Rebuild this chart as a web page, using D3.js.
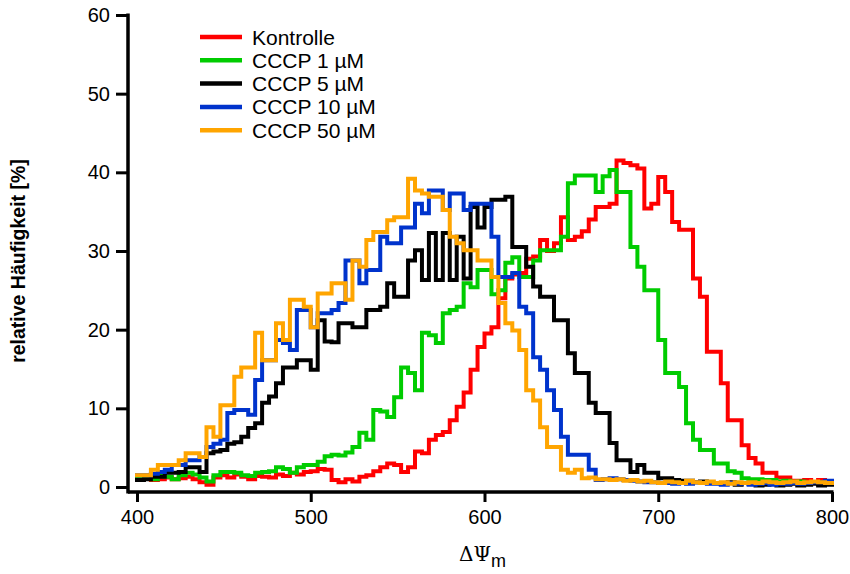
<!DOCTYPE html>
<html>
<head>
<meta charset="utf-8">
<script src="https://cdn.jsdelivr.net/npm/d3@7"></script>
<style>
  body { margin: 0; background: #fff; }
  text { font-family: "Liberation Sans", Arial, sans-serif; }
</style>
</head>
<body>
<svg width="850" height="574"></svg>
<script>
// bins of 4 units from 400 to 796
var binStart = 400, binWidth = 4;

var kontrolle = [1.0,1.2,0.9,1.0,1.2,1.0,1.1,1.3,1.0,0.6, 0.3,1.2,1.5,1.2,1.6,1.3,1.0,1.4,1.3,1.2,
  1.6,1.4,1.8,1.6,1.9,2.0,2.3,2.2,0.9,0.6, 1.0,0.7,1.3,1.5,2.0,2.5,3.0,2.8,1.9,2.5,
  4.5,4.3,6.0,6.6,7.0,8.5,10.2,12.0,14.9,17.8, 19.5,20.3,24.0,26.5,27.0,27.2,29.0,29.3,31.4,30.0,
  31.0,34.3,31.4,31.8,32.5,34.0,35.6,35.6,36.0,41.5, 41.2,40.9,40.5,35.4,36.0,39.4,37.5,33.7,32.7,32.7,
  26.5,24.2,17.2,17.2,13.2,8.5,8.5,5.3,3.7,3.0, 1.8,1.8,1.2,1.2,0.8,0.8,0.9,0.6,0.9,0.7];

var cccp1 = [1.3,1.2,1.0,1.5,1.3,1.0,1.5,1.8,1.6,1.2, 0.7,1.5,1.9,1.9,1.8,1.5,1.4,1.8,1.9,2.0,
  2.5,2.3,1.8,2.5,2.8,2.8,3.2,3.9,4.1,4.0, 4.4,5.1,6.9,6.0,9.8,9.6,8.9,11.4,15.2,14.5,
  12.3,19.6,19.3,18.3,22.1,22.5,22.9,25.9,25.4,27.6, 27.6,24.5,25.0,28.5,29.2,26.7,26.7,28.8,30.1,30.1,
  30.1,31.8,38.6,39.6,39.6,39.6,37.5,39.5,40.3,37.5, 37.5,30.5,28.0,25.0,25.0,18.7,14.5,14.5,12.7,8.1,
  6.0,4.7,4.7,3.0,3.0,2.0,1.8,1.1,1.0,1.0, 0.9,0.9,0.7,0.8,0.6,0.7,0.5,0.6,0.6,0.7];

var cccp5 = [0.9,1.0,1.3,1.3,1.8,1.8,1.9,2.5,2.5,1.9, 4.3,4.5,4.7,5.5,5.7,6.4,7.5,8.1,10.7,11.5,
  13.2,15.2,15.2,16.1,16.1,14.9,21.2,18.5,18.4,20.8, 20.8,20.3,20.3,22.5,22.5,22.9,25.9,24.2,24.2,28.8,
  30.1,26.3,32.3,26.3,32.3,26.3,31.8,26.5,35.6,33.0, 35.6,36.5,36.5,36.9,30.5,30.5,28.0,25.5,24.2,24.2,
  21.2,21.2,17.0,14.5,14.5,10.7,9.4,9.4,5.6,3.4, 3.4,1.9,2.8,1.8,1.8,1.1,1.1,0.9,0.8,0.8,
  0.6,0.7,0.5,0.5,0.4,0.6,0.3,0.5,0.4,0.2, 0.3,0.5,0.2,0.3,0.4,0.2,0.3,0.4,0.2,0.3];

var cccp10 = [1.5,1.5,1.7,1.9,2.2,2.8,2.8,3.4,3.4,3.8, 5.1,5.5,6.0,9.4,9.8,9.8,9.2,13.6,16.1,16.1,
  18.7,18.3,17.4,22.5,22.5,20.3,22.1,22.1,22.5,23.4, 28.8,28.8,25.9,27.6,27.6,31.8,31.0,31.0,33.0,33.0,
  36.0,34.8,37.7,37.7,35.2,37.3,37.3,35.2,36.0,36.0, 36.0,31.8,26.7,26.7,27.2,22.9,22.1,16.5,14.9,12.3,
  9.8,6.4,4.1,4.1,4.1,2.2,0.9,1.0,1.1,1.0, 0.9,0.8,0.7,0.6,0.6,0.5,0.5,0.4,0.5,0.4,
  0.6,0.5,0.4,0.4,0.3,0.5,0.4,0.5,0.3,0.4, 0.5,0.3,0.4,0.4,0.5,0.4,0.5,0.6,0.6,0.8];

var cccp50 = [1.5,1.5,2.2,2.8,2.8,2.8,3.4,4.3,4.3,3.8, 7.6,6.4,10.4,10.4,14.0,15.2,15.2,19.6,16.1,16.1,
  20.8,18.7,23.8,23.8,22.9,20.3,24.6,24.6,25.9,25.9, 23.8,28.8,28.0,31.4,32.4,32.4,33.9,34.3,34.3,39.2,
  37.7,37.3,36.9,36.9,35.2,31.8,31.0,30.1,30.1,28.8, 28.8,26.7,23.4,20.8,19.9,17.4,12.3,11.0,7.6,5.1,
  5.1,2.2,1.8,2.2,1.1,1.2,1.0,1.0,0.9,1.0, 0.8,0.9,0.7,0.8,0.6,0.5,0.7,0.6,0.5,0.8,
  0.6,0.5,0.7,0.5,0.6,0.4,0.6,0.5,0.6,0.5, 0.7,0.6,0.5,0.6,0.7,0.5,0.6,0.7,0.6,0.5];

var seriesNames = ["Kontrolle", "CCCP 1 \u00b5M", "CCCP 5 \u00b5M", "CCCP 10 \u00b5M", "CCCP 50 \u00b5M"];
var seriesValues = [kontrolle, cccp1, cccp5, cccp10, cccp50];
var seriesColors = ["#ff0000", "#00cc00", "#000000", "#0033cc", "#ffa500"];

var xTicks = [400, 500, 600, 700, 800];
var yTicks = [0, 10, 20, 30, 40, 50, 60];

var svg = d3.select("svg");

var x = d3.scaleLinear().domain([400, 800]).range([137, 832]);
var y = d3.scaleLinear().domain([0, 60]).range([487, 15]);
var axisX0 = 128, axisY0 = 492;

// curves
var line = d3.line()
  .x(function(d) { return x(d[0]); })
  .y(function(d) { return y(d[1]); })
  .curve(d3.curveStepAfter);

seriesValues.forEach(function(vals, i) {
  var pts = vals.map(function(v, k) { return [binStart + k * binWidth, v]; });
  pts.push([binStart + vals.length * binWidth, vals[vals.length - 1]]);
  svg.append("path")
    .datum(pts)
    .attr("d", line)
    .attr("fill", "none")
    .attr("stroke", seriesColors[i])
    .attr("stroke-width", 4)
    .attr("stroke-linejoin", "miter")
    .attr("stroke-linecap", "square");
});

// axes
var gy = svg.append("g")
  .attr("transform", "translate(" + axisX0 + ",0)")
  .call(d3.axisLeft(y).tickValues(yTicks).tickSize(12).tickPadding(6));
var gx = svg.append("g")
  .attr("transform", "translate(0," + axisY0 + ")")
  .call(d3.axisBottom(x).tickValues(xTicks).tickSize(10).tickPadding(8));

[gx, gy].forEach(function(g) {
  g.select(".domain").remove();
  g.selectAll("line").attr("stroke", "#000").attr("stroke-width", 3);
  g.selectAll("text")
    .attr("fill", "#000")
    .style("font-size", "20px")
    .style("font-family", "'Liberation Sans', Arial, sans-serif");
});

svg.append("line")
  .attr("x1", axisX0).attr("x2", axisX0)
  .attr("y1", y(60) - 1.5).attr("y2", axisY0 + 1.5)
  .attr("stroke", "#000").attr("stroke-width", 3.5);
svg.append("line")
  .attr("x1", axisX0).attr("x2", x(800) + 1.5)
  .attr("y1", axisY0).attr("y2", axisY0)
  .attr("stroke", "#000").attr("stroke-width", 3.5);

// axis titles
svg.append("text")
  .attr("transform", "translate(25," + ((y(0) + y(60)) / 2 + 10) + ") rotate(-90)")
  .attr("text-anchor", "middle")
  .style("font-size", "19.5px")
  .style("font-weight", "bold")
  .text("relative H\u00e4ufigkeit [%]");

var xl = svg.append("text")
  .attr("x", x(600) - 2)
  .attr("y", 561)
  .attr("text-anchor", "middle")
  .style("font-size", "20px")
  .style("font-family", "'DejaVu Serif', serif");
xl.append("tspan").text("\u0394\u03a8");
xl.append("tspan").attr("dy", 6).style("font-size", "18px")
  .style("font-family", "'Liberation Sans', Arial, sans-serif").text("m");

// legend
var legend = svg.append("g").attr("class", "legend");
seriesNames.forEach(function(name, i) {
  var ly = 37 + i * 23.3;
  legend.append("line")
    .attr("x1", 200).attr("x2", 242)
    .attr("y1", ly).attr("y2", ly)
    .attr("stroke", seriesColors[i])
    .attr("stroke-width", 4.5);
  legend.append("text")
    .attr("x", 252).attr("y", ly + 7.5)
    .style("font-size", "21px")
    .text(name);
});
</script>
</body>
</html>
